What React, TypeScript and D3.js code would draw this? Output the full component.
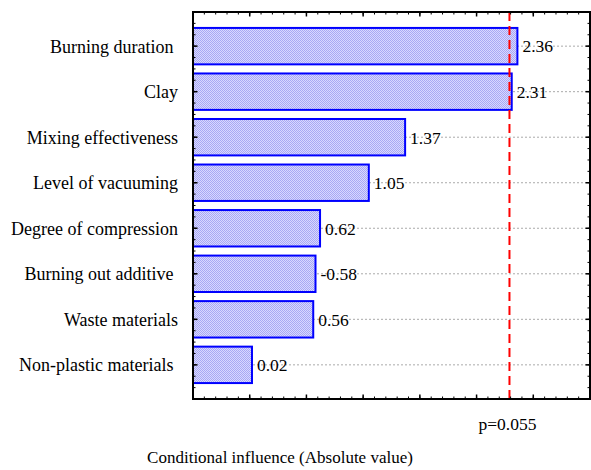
import React from "react";
import * as d3 from "d3";

const categories = [
  "Burning duration ",
  "Clay",
  "Mixing effectiveness",
  "Level of vacuuming",
  "Degree of compression",
  "Burning out additive ",
  "Waste materials",
  "Non-plastic materials ",
];
const values = [2.36, 2.31, 1.37, 1.05, 0.62, -0.58, 0.56, 0.02];
const pLineValue = 2.29;
const pLabel = "p=0.055";
const xTitle = "Conditional influence (Absolute value)";
const xDomain = [-0.5, 3.0];

export default function App() {
  const W = 591, H = 470;
  const left = 193, right = 590, top = 12, bottom = 399;
  const x = d3.scaleLinear().domain(xDomain).range([left, right]);
  const y = d3.scaleLinear().domain([-0.75, categories.length - 0.25]).range([top, bottom]);

  const xMinor = d3.range(0, 36).map((i) => xDomain[0] + i * 0.1);
  const xMajor = d3.range(0, 8).map((i) => xDomain[0] + i * 0.5);
  const yMinor = d3.range(0, 35).map((i) => -0.75 + i * 0.25);
  const yMajor = categories.map((_, i) => i);
  const barH = y(0.4) - y(-0.4);
  const font = "Liberation Serif, Times New Roman, serif";

  return (
    <svg width={W} height={H} style={{ position: "absolute", left: 0, top: 0, background: "#fff" }}>
      <defs>
        <pattern id="dots" width={2} height={2} patternUnits="userSpaceOnUse">
          <rect width={2} height={2} fill="#d8d8ff" />
          <rect x={0} y={0} width={1} height={1} fill="#a8a8f4" />
          <rect x={1} y={1} width={1} height={1} fill="#a8a8f4" />
        </pattern>
      </defs>
      {categories.map((_, i) => (
        <line key={"g" + i} x1={left} x2={right} y1={y(i)} y2={y(i)} stroke="#aaa" strokeWidth={1} strokeDasharray="2,2" />
      ))}
      {values.map((v, i) => (
        <rect
          key={"b" + i}
          x={x(xDomain[0])}
          y={y(i) - barH / 2}
          width={x(Math.abs(v)) - x(xDomain[0])}
          height={barH}
          fill="url(#dots)"
          stroke="#0000ff"
          strokeWidth={2}
        />
      ))}
      {values.map((v, i) => (
        <text key={"v" + i} x={x(Math.abs(v)) + 5} y={y(i)} dy="0.36em" fontFamily={font} fontSize={17.5} fill="#000">
          {v.toFixed(2)}
        </text>
      ))}
      {categories.map((c, i) => (
        <text key={"c" + i} x={178} y={y(i)} dy="0.36em" textAnchor="end" fontFamily={font} fontSize={18} fill="#000" style={{ whiteSpace: "pre" }}>
          {c}
        </text>
      ))}
      <line x1={x(pLineValue)} x2={x(pLineValue)} y1={top} y2={bottom} stroke="#ff0000" strokeWidth={2} strokeDasharray="9,5" />
      {xMinor.map((t, i) => (
        <g key={"xm" + i}>
          <line x1={x(t)} x2={x(t)} y1={top} y2={top + 2.5} stroke="#000" strokeWidth={1} />
          <line x1={x(t)} x2={x(t)} y1={bottom} y2={bottom - 2.5} stroke="#000" strokeWidth={1} />
        </g>
      ))}
      {xMajor.map((t, i) => (
        <g key={"xM" + i}>
          <line x1={x(t)} x2={x(t)} y1={top} y2={top + 4.5} stroke="#000" strokeWidth={1.5} />
          <line x1={x(t)} x2={x(t)} y1={bottom} y2={bottom - 4.5} stroke="#000" strokeWidth={1.5} />
        </g>
      ))}
      {yMinor.map((t, i) => (
        <g key={"ym" + i}>
          <line x1={left} x2={left + 2.5} y1={y(t)} y2={y(t)} stroke="#000" strokeWidth={1} />
          <line x1={right} x2={right - 2.5} y1={y(t)} y2={y(t)} stroke="#000" strokeWidth={1} />
        </g>
      ))}
      {yMajor.map((t, i) => (
        <g key={"yM" + i}>
          <line x1={left} x2={left + 4.5} y1={y(t)} y2={y(t)} stroke="#000" strokeWidth={1.5} />
          <line x1={right} x2={right - 4.5} y1={y(t)} y2={y(t)} stroke="#000" strokeWidth={1.5} />
        </g>
      ))}
      <rect x={left} y={top} width={right - left} height={bottom - top} fill="none" stroke="#000" strokeWidth={2} />
      <text x={x(pLineValue) - 2} y={430} textAnchor="middle" fontFamily={font} fontSize={17.5} fill="#000">
        {pLabel}
      </text>
      <text x={280} y={463} textAnchor="middle" fontFamily={font} fontSize={17} fill="#000">
        {xTitle}
      </text>
    </svg>
  );
}
